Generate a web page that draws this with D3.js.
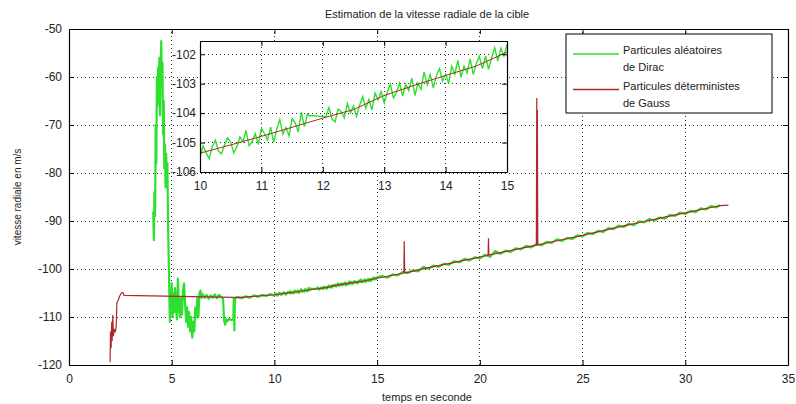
<!DOCTYPE html>
<html>
<head>
<meta charset="utf-8">
<script src="https://cdn.jsdelivr.net/npm/d3@7"></script>
<style>
  body { margin: 0; background: #fff; }
  text { font-family: "Liberation Sans", Arial, sans-serif; fill: #222; }
</style>
</head>
<body>
<div id="chart"></div>
<script>
// tick values
var xTicks = [0, 5, 10, 15, 20, 25, 30, 35];
var yTicks = [-120, -110, -100, -90, -80, -70, -60, -50];
var insetXTicks = [10, 11, 12, 13, 14, 15];
var insetYTicks = [-106, -105, -104, -103, -102];

// Particules aléatoires de Dirac (green) : [temps, vitesse]
var greenEarly = [
  [4.10,-88],[4.13,-94],[4.16,-84],[4.19,-89],[4.22,-70],[4.25,-78],[4.28,-60],[4.31,-66],
  [4.34,-58],[4.37,-64],[4.40,-56],[4.43,-68],[4.46,-59],[4.49,-52.5],[4.52,-62],[4.55,-57],
  [4.58,-72],[4.61,-65],[4.64,-79],[4.67,-74],[4.70,-83],[4.73,-76],[4.76,-81],[4.79,-78],
  [4.82,-90],[4.85,-97],[4.88,-104],[4.91,-111],[4.94,-105],[4.97,-108],[5.00,-103],[5.04,-110],
  [5.08,-105],[5.12,-109],[5.16,-104],[5.20,-107],[5.25,-110.5],[5.30,-102],[5.35,-108],[5.40,-110],
  [5.45,-106],[5.50,-109.5],[5.55,-104.5],[5.60,-103],[5.65,-107],[5.70,-111],[5.75,-108],[5.80,-112],
  [5.85,-109],[5.90,-113],[5.95,-110],[6.00,-114.3],[6.05,-111],[6.10,-113],[6.15,-108],[6.20,-110],
  [6.25,-106],[6.30,-110],[6.35,-105],[6.40,-104.5],[6.45,-106],[6.50,-105.2],[6.60,-106],[6.70,-105.4],
  [6.80,-106.2],[6.90,-105.5],[7.00,-106],[7.10,-105.3],[7.20,-106.1],[7.30,-105.4],[7.40,-105.8],[7.50,-106.2],
  [7.55,-110.8],[7.60,-111.6],[7.65,-110.5],[7.70,-110.9],[7.80,-110.4],[7.90,-110.6],[8.00,-110.5],
  [8.02,-106.1],[8.05,-112.8],[8.08,-106.0],[8.20,-105.8],[8.40,-106.1],[8.60,-105.7],[8.80,-106.0],
  [9.00,-105.5],[9.20,-105.8],[9.40,-105.4],[9.60,-105.6],[9.80,-105.2],[9.95,-105.5]
];
var greenMid = [
  [10.00,-105.51],[10.05,-105.11],[10.10,-105.35],[10.15,-105.55],[10.20,-105.13],[10.25,-104.92],
  [10.30,-105.29],[10.35,-105.38],[10.40,-105.08],[10.45,-104.84],[10.50,-104.98],[10.55,-105.35],
  [10.60,-105.14],[10.65,-104.81],[10.70,-104.98],[10.75,-104.59],[10.80,-105.11],[10.85,-104.96],
  [10.90,-104.70],[10.95,-105.07],[11.00,-104.51],[11.05,-104.70],[11.10,-104.91],[11.15,-104.48],
  [11.20,-104.99],[11.25,-104.54],[11.30,-104.22],[11.35,-104.72],[11.40,-104.49],[11.45,-104.77],
  [11.50,-104.18],[11.55,-104.33],[11.60,-104.64],[11.65,-103.97],[11.70,-104.46],[11.75,-104.03],
  [11.77,-104.08],[12.05,-104.12],
  [12.10,-103.81],[12.15,-104.20],[12.20,-104.30],[12.25,-103.86],[12.30,-103.95],[12.35,-104.16],
  [12.40,-103.68],[12.45,-103.99],[12.50,-103.76],[12.55,-104.11],[12.60,-103.72],[12.65,-103.44],
  [12.70,-103.84],[12.75,-103.54],[12.80,-103.89],[12.85,-103.32],[12.90,-103.55],[12.95,-103.27],
  [13.00,-103.66],[13.05,-103.29],[13.10,-103.01],[13.15,-103.48],[13.20,-103.30],[13.25,-102.98],
  [13.30,-103.42],[13.35,-103.02],[13.40,-103.23],[13.45,-102.81],[13.50,-103.40],[13.55,-102.98],
  [13.60,-103.19],[13.65,-102.60],[13.70,-103.04],[13.75,-102.69],[13.80,-103.14],[13.85,-102.72],
  [13.90,-102.49],[13.95,-102.91],[14.00,-102.68],[14.05,-102.99],[14.10,-102.41],[14.15,-102.68],
  [14.20,-102.21],[14.25,-102.78],[14.30,-102.41],[14.35,-102.64],[14.40,-102.16],[14.45,-102.69],
  [14.50,-102.32],[14.55,-102.07],[14.60,-102.49],[14.65,-102.06],[14.70,-102.51],[14.75,-102.11],
  [14.80,-101.78],[14.85,-102.23],[14.90,-101.80],[14.95,-102.06],[15.00,-101.69]
];
var greenLate = [
  [15.25,-101.47],[15.50,-101.82],[15.75,-101.11],[16.00,-101.35],[16.25,-100.58],[16.50,-100.85],
  [16.75,-100.28],[17.00,-100.50],[17.25,-99.53],[17.50,-99.95],[17.75,-99.28],[18.00,-99.55],
  [18.25,-98.88],[18.50,-99.15],[18.75,-98.38],[19.00,-98.60],[19.25,-97.88],[19.50,-98.20],
  [19.75,-97.58],[20.00,-97.80],[20.25,-97.03],[20.50,-97.45],[20.75,-96.23],[21.00,-96.85],
  [21.25,-96.18],[21.50,-96.45],[21.75,-95.68],[22.00,-95.90],[22.25,-95.18],[22.50,-95.50],
  [22.75,-94.83],[23.00,-95.10],[23.25,-94.33],[23.50,-94.55],[23.75,-93.83],[24.00,-94.15],
  [24.25,-93.53],[24.50,-93.75],[24.75,-92.98],[25.00,-93.20],[25.25,-92.45],[25.50,-92.75],
  [25.75,-92.05],[26.00,-92.30],[26.25,-91.50],[26.50,-91.70],[26.75,-90.95],[27.00,-91.25],
  [27.25,-90.58],[27.50,-90.85],[27.75,-90.08],[28.00,-90.30],[28.25,-89.58],[28.50,-89.90],
  [28.75,-89.28],[29.00,-89.50],[29.25,-88.73],[29.50,-88.95],[29.75,-88.23],[30.00,-88.55],
  [30.25,-87.88],[30.50,-88.15],[30.75,-87.38],[31.00,-87.60],[31.25,-86.88],[31.50,-87.15],
  [31.70,-86.70]
];

// Particules déterministes de Gauss (red) : [temps, vitesse]
var redSeries = [
  [2.00,-119.4],[2.02,-113.0],[2.05,-116.5],[2.08,-111.0],[2.10,-115.0],[2.13,-109.6],[2.16,-114.0],
  [2.20,-112.5],[2.25,-113.2],[2.30,-111.8],[2.33,-107.0],[2.40,-106.5],[2.45,-105.8],[2.55,-105.0],
  [2.62,-104.9],[2.68,-105.5],[8.00,-105.9],[8.05,-106.0],[9.00,-105.7],[10.00,-105.36],
  [10.50,-105.08],[11.00,-104.79],[11.50,-104.48],[12.00,-104.17],[12.50,-103.88],[13.00,-103.40],
  [13.50,-103.05],[14.00,-102.72],[14.50,-102.40],[15.00,-101.93],[16.00,-101.10],[16.30,-100.85],
  [16.32,-94.2],[16.34,-100.80],[16.60,-100.60],[17.00,-100.20],[18.00,-99.30],[19.00,-98.40],
  [20.00,-97.50],[20.40,-97.15],[20.42,-93.6],[20.44,-97.10],[21.00,-96.60],[22.00,-95.70],
  [22.75,-95.03],[22.77,-64.4],[22.79,-95.00],[22.80,-66.9],[22.82,-94.98],[23.00,-94.80],
  [24.00,-93.90],[25.00,-93.00],[26.00,-92.00],[27.00,-91.00],[28.00,-90.10],[29.00,-89.20],
  [30.00,-88.30],[31.00,-87.40],[31.70,-86.80],[32.10,-86.70]
];

var greenColor = "#2ee02e", redColor = "#ac2a2c";
var greenAll = greenEarly.concat(greenMid, greenLate);

var W = 796, H = 404;
var svg = d3.select("#chart").append("svg")
  .attr("width", W).attr("height", H);

// ---- main axes ----
var x = d3.scaleLinear().domain([0, 35]).range([69, 788]);
var y = d3.scaleLinear().domain([-120, -50]).range([365, 29]);

function grid(g, xs, ys, xt, yt) {
  g.selectAll(".gx").data(xt).enter().append("line")
    .attr("x1", d => xs(d)).attr("x2", d => xs(d))
    .attr("y1", ys.range()[0]).attr("y2", ys.range()[1]);
  g.selectAll(".gy").data(yt).enter().append("line")
    .attr("y1", d => ys(d)).attr("y2", d => ys(d))
    .attr("x1", xs.range()[0]).attr("x2", xs.range()[1]);
  g.selectAll("line")
    .attr("stroke", "#333").attr("stroke-width", 1)
    .attr("stroke-dasharray", "1,3").attr("shape-rendering", "crispEdges");
}

function box(g, xs, ys, xt, yt, padX, padY) {
  var x0 = xs.range()[0], x1 = xs.range()[1], y0 = ys.range()[0], y1 = ys.range()[1];
  var fmt = d => String(d);
  g.append("g").attr("transform", "translate(0," + y0 + ")")
    .call(d3.axisBottom(xs).tickValues(xt).tickSize(-5).tickSizeOuter(0).tickPadding(padX)
      .tickFormat(fmt));
  g.append("g").attr("transform", "translate(" + x0 + ",0)")
    .call(d3.axisLeft(ys).tickValues(yt).tickSize(-5).tickSizeOuter(0).tickPadding(padY)
      .tickFormat(fmt));
  g.append("g").attr("transform", "translate(0," + y1 + ")")
    .call(d3.axisTop(xs).tickValues(xt).tickSize(-5).tickSizeOuter(0).tickFormat(""));
  g.append("g").attr("transform", "translate(" + x1 + ",0)")
    .call(d3.axisRight(ys).tickValues(yt).tickSize(-5).tickSizeOuter(0).tickFormat(""));
  g.selectAll(".domain").attr("stroke", "#000").attr("stroke-width", 1.2);
  g.selectAll(".tick line").attr("stroke", "#000");
  g.selectAll(".tick text").attr("font-size", 12).attr("fill", "#222")
    .attr("font-family", "Liberation Sans, Arial, sans-serif");
}

var main = svg.append("g");
grid(main.append("g"), x, y, xTicks, yTicks);

var line = d3.line().x(d => x(d[0])).y(d => y(d[1]));
main.append("path").datum(greenAll)
  .attr("fill", "none").attr("stroke", greenColor).attr("stroke-width", 2.2)
  .attr("stroke-linejoin", "round").attr("d", line);
main.append("path").datum(redSeries)
  .attr("fill", "none").attr("stroke", redColor).attr("stroke-width", 1.2)
  .attr("d", line);

box(main, x, y, xTicks, yTicks, 9, 7);

// ---- titles ----
svg.append("text").attr("x", 427).attr("y", 18).attr("text-anchor", "middle")
  .attr("font-size", 11).text("Estimation de la vitesse radiale de la cible");
svg.append("text").attr("x", 427).attr("y", 401).attr("text-anchor", "middle")
  .attr("font-size", 11).text("temps en seconde");
svg.append("text").attr("transform", "translate(21,197) rotate(-90)")
  .attr("text-anchor", "middle").attr("font-size", 10).text("vitesse radiale en m/s");

// ---- legend ----
var leg = svg.append("g");
leg.append("rect").attr("x", 566).attr("y", 34).attr("width", 206).attr("height", 79)
  .attr("fill", "#fff").attr("stroke", "#000").attr("stroke-width", 1);
leg.append("line").attr("x1", 573).attr("x2", 619).attr("y1", 54).attr("y2", 54)
  .attr("stroke", greenColor).attr("stroke-width", 1.5);
leg.append("line").attr("x1", 573).attr("x2", 619).attr("y1", 89.5).attr("y2", 89.5)
  .attr("stroke", redColor).attr("stroke-width", 1.5);
[["Particules aléatoires", 54], ["de Dirac", 71], ["Particules déterministes", 90], ["de Gauss", 107]]
  .forEach(function (t) {
    leg.append("text").attr("x", 623).attr("y", t[1]).attr("font-size", 11).text(t[0]);
  });

// ---- inset ----
var ix = d3.scaleLinear().domain([10, 15]).range([200, 507]);
var iy = d3.scaleLinear().domain([-106, -101.55]).range([172, 41]);
var inset = svg.append("g");
inset.append("rect").attr("x", 200).attr("y", 41).attr("width", 307).attr("height", 131)
  .attr("fill", "#fff");
inset.append("clipPath").attr("id", "insetClip").append("rect")
  .attr("x", 200).attr("y", 41).attr("width", 307).attr("height", 131);
grid(inset.append("g"), ix, iy, insetXTicks, insetYTicks);
var iline = d3.line().x(d => ix(d[0])).y(d => iy(d[1]));
var idata = inset.append("g").attr("clip-path", "url(#insetClip)");
idata.append("path").datum(greenAll.filter(d => d[0] >= 9.9 && d[0] <= 15.3))
  .attr("fill", "none").attr("stroke", greenColor).attr("stroke-width", 1.4).attr("d", iline);
idata.append("path").datum(redSeries.filter(d => d[0] >= 9 && d[0] <= 16))
  .attr("fill", "none").attr("stroke", redColor).attr("stroke-width", 1).attr("d", iline);
box(inset, ix, iy, insetXTicks, insetYTicks, 9, 4);
</script>
</body>
</html>
